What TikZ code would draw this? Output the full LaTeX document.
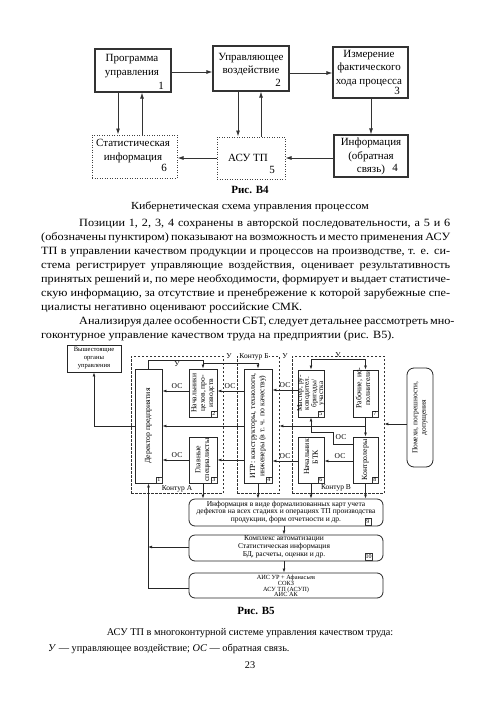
\documentclass[tikz,border=0pt]{standalone}
\usepackage{fontspec}
\setmainfont{Liberation Serif}
\newfontfamily\bodyf[FakeStretch=1.1]{Liberation Serif}
\usetikzlibrary{arrows.meta,fit}
\newcommand\FS[2]{\fontsize{#1}{#2}\selectfont}
\begin{document}
\begin{tikzpicture}[x=1pt,y=-1pt,
  tb/.style={draw=black!80,line width=1.1pt,inner sep=0pt},
  tbdot/.style={draw=black!75,line width=1pt,dash pattern=on 1pt off 1.5pt,inner sep=0pt},
  ttext/.style={align=center,font=\FS{11}{13.2},inner sep=0pt},
  tnum/.style={font=\FS{11}{13},inner sep=0pt},
  tarr/.style={draw=black!80,line width=0.9pt,-{Latex[length=6pt,width=4pt]}},
  cont/.style={draw=black!80,line width=0.6pt,dash pattern=on 2.5pt off 1.5pt,inner sep=0pt},
  bb/.style={draw=black!85,line width=0.8pt,inner sep=0pt},
  rb/.style={bb,rounded corners=6pt},
  vt/.style={rotate=90,align=center,font=\FS{7.8}{8.8},inner sep=0pt},
  st/.style={align=center,font=\FS{7.5}{7.7},inner sep=0pt},
  lbl/.style={font=\FS{7.5}{8},inner sep=0.5pt},
  tag/.style={draw=black!80,line width=0.4pt,font=\FS{6}{6},inner sep=0.5pt,minimum width=6.5pt,minimum height=6.5pt},
  barr/.style={draw=black!85,line width=0.7pt,-{Latex[length=4pt,width=2.8pt]}},
  body/.style={anchor=base west,inner sep=0pt,font=\bodyf\FS{11.1}{14}},
  captxt/.style={inner sep=0pt,font=\FS{10.3}{12}},
]
\useasboundingbox[fill=white] (0,0) rectangle (500,707);

% ---------- Figure B4 ----------
\node[tb,fit={(95,49)(171,92)}] (t1) {};
\node[tb,fit={(213,46)(289,91)}] (t2) {};
\node[tb,fit={(333,47)(408,98)}] (t3) {};
\node[tb,fit={(334,135)(408,177)}] (t4) {};
\node[tbdot,fit={(217,137)(285,179)}] (t5) {};
\node[tbdot,fit={(92,135)(177,178)}] (t6) {};

\node[ttext] (t1x) at (132,66) {Программа\\управления};
\node[ttext] (t2x) at (251,64.5) {Управляющее\\воздействие};
\node[ttext] (t3x) at (369,68.5) {Измерение\\фактического\\хода процесса};
\node[ttext] (t4x) at (371,156.5) {Информация\\(обратная\\связь)};
\node[ttext] (t5x) at (248,158) {АСУ ТП};
\node[ttext] (t6x) at (133,151) {Статистическая\\информация};
\node[tnum] (n1) at (161,86) {1};
\node[tnum] (n2) at (278,83) {2};
\node[tnum] (n3) at (397,91) {3};
\node[tnum] (n4) at (395,168) {4};
\node[tnum] (n5) at (272,170) {5};
\node[tnum] (n6) at (164,168) {6};

\draw[tarr] (t1.east |- 0,72) -- (t2.west |- 0,72);
\draw[tarr] (t2.east |- 0,73) -- (t3.west |- 0,73);
\draw[tarr] (t1.south -| 118,0) -- (t6.north -| 118,0);
\draw[tarr] (t6.north -| 142,0) -- (t1.south -| 142,0);
\draw[tarr] (t2.south -| 238,0) -- (t5.north -| 238,0);
\draw[tarr] (t5.north -| 261,0) -- (t2.south -| 261,0);
\draw[tarr] (t3.south -| 371,0) -- (t4.north -| 371,0);
\draw[tarr] (t4.west |- 0,158) -- (t5.east |- 0,158);
\draw[tarr] (t5.west |- 0,158) -- (t6.east |- 0,158);

\node[inner sep=0pt,font=\bfseries\FS{11}{12}] (cap4) at (250,190) {Рис. В4};
\node[inner sep=0pt,font=\bodyf\FS{10.8}{12}] (cap4b) at (250,207) {Кибернетическая схема управления процессом};

% ---------- Body text ----------
\node[body] (p1) at (79,226) {\makebox[371pt][s]{Позиции 1, 2, 3, 4 сохранены в авторской последовательности, а 5 и 6}};
\node[body] (p2) at (41,240) {\makebox[409pt][s]{(обозначены пунктиром) показывают на возможность и место применения АСУ}};
\node[body] (p3) at (41,254) {\makebox[409pt][s]{ТП в управлении качеством продукции и процессов на производстве, т. е. си-}};
\node[body] (p4) at (41,268) {\makebox[409pt][s]{стема регистрирует управляющие воздействия, оценивает результативность}};
\node[body] (p5) at (41,282) {\makebox[409pt][s]{принятых решений и, по мере необходимости, формирует и выдает статистиче-}};
\node[body] (p6) at (41,296) {\makebox[409pt][s]{скую информацию, за отсутствие и пренебрежение к которой зарубежные спе-}};
\node[body] (p7) at (41,310) {циалисты негативно оценивают российские СМК.};
\node[body] (p8) at (79,324) {\makebox[371pt][s]{Анализируя далее особенности СБТ, следует детальнее рассмотреть мно-}};
\node[body] (p9) at (41,338) {гоконтурное управление качеством труда на предприятии (рис. В5).};

% ---------- Figure B5 ----------
\node[bb,fit={(67,345)(121,372)}] (v) {};
\node[st,font=\FS{6.6}{8}] (vx) at (94,358.5) {Вышестоящие\\органы\\управления};

\node[cont,fit={(131,356)(223,493)}] (ka) {};
\node[cont,fit={(237,356)(279,493)}] (kb) {};
\node[cont,fit={(292,356)(384,493)}] (kv) {};

\node[bb,fit={(135,369)(162,483)}] (b1) {};
\node[bb,fit={(189,369)(217,417)}] (b2) {};
\node[bb,fit={(189,437)(217,483)}] (b3) {};
\node[bb,fit={(244,369)(272,483)}] (b4) {};
\node[bb,fit={(298,370)(324,417)}] (b5) {};
\node[bb,fit={(353,370)(378,417)}] (b7) {};
\node[bb,fit={(298,437)(324,483)}] (b6) {};
\node[bb,fit={(353,437)(378,483)}] (b8) {};
\node[bb,rounded corners=7pt,fit={(407,368)(433,467)}] (pom) {};

\node[vt] (b1x) at (148.5,426) {Деректор предприятия};
\node[vt,font=\FS{7.6}{8.3}] (b2x) at (203,393) {Начальники\\цехов, про-\\изводств};
\node[vt] (b3x) at (203,460) {Главные\\специалисты};
\node[vt,font=\FS{7.8}{9.3}] (b4x) at (258,426) {ИТР: конструкторы, технологи,\\инженеры (в т. ч. по качеству)};
\node[vt,font=\FS{7.3}{6.6}] (b5x) at (311,393.5) {Мастер, ру-\\ководител.\\бригады/\\участка};
\node[vt] (b7x) at (363,388) {Рабочие, ис-\\полнители};
\node[vt] (b6x) at (311,457) {Начальник\\БТК};
\node[vt] (b8x) at (365.5,460) {Контролеры};
\node[vt,font=\FS{7.5}{8.5}] (pomx) at (420,417.5) {Помехи, погрешности,\\допущения};

\node[tag,anchor=south east] (g1) at (b1.south east) {1};
\node[tag,anchor=south east] (g2) at (b2.south east) {2};
\node[tag,anchor=south east] (g3) at (b3.south east) {3};
\node[tag,anchor=south east] (g4) at (b4.south east) {4};
\node[tag,anchor=south east] (g5) at (b5.south east) {5};
\node[tag,anchor=south east] (g7) at (b7.south east) {7};
\node[tag,anchor=south east] (g6) at (b6.south east) {6};
\node[tag,anchor=south east] (g8) at (b8.south east) {8};

\node[lbl] (kal) at (177,489) {Контур А};
\node[lbl,fill=white] (kbl) at (254,357) {Контур Б};
\node[lbl] (kvl) at (336,488) {Контур В};

% control (У) lines
\coordinate (ya) at (203,360);
\coordinate (yd) at (203,363);
\coordinate (yb) at (339,359);
\draw[barr] (b1.north) |- (ya) -- (b2.north);
\draw[barr] (yd) -| (b4.north);
\draw[barr] (yb) -| (b5.north);
\draw[barr] (yb) -| (b7.north);
\node[lbl] (u1) at (177,364) {У};
\node[lbl] (u2) at (229,356.5) {У};
\node[lbl] (u3) at (285,356.5) {У};
\node[lbl] (u4) at (338,355) {У};

% feedback (ОС) lines
\draw[barr] (b1.west |- 0,426) -| (v.south);
\draw[barr] (b2.west |- 0,391) -- (b1.east |- 0,391);
\node[lbl] (o1) at (177,386) {ОС};
\draw[barr] (b4.west |- 0,391) -- (b2.east |- 0,391);
\node[lbl] (o2) at (230,386) {ОС};
\draw[barr] (b4.west |- 0,426) -- (b1.east |- 0,426);
\draw[barr] (b4.west |- 0,460) -- (b3.east |- 0,460);
\draw[barr] (b3.west |- 0,460) -- (b1.east |- 0,460);
\node[lbl] (o3) at (177,455) {ОС};
\draw[barr] (b5.west |- 0,390) -- (b4.east |- 0,390);
\node[lbl] (o4) at (285,385.5) {ОС};
\draw[barr] (b6.west |- 0,461) -- (b4.east |- 0,461);
\node[lbl] (o5) at (285,456) {ОС};
\draw[barr] (b8.west |- 0,461) -- (b6.east |- 0,461);
\node[lbl] (o6) at (340,456) {ОС};
\draw[barr] (b7.south) -- (b8.north);
\draw[barr] (b7.south |- 0,426) -- (kb.east |- 0,426);
\draw[barr] (b8.west |- 0,444) -- (333,444) -- (333,432) -| (b5.south);
\node[lbl] (o7) at (341,437) {ОС};
\draw[barr] (pom.west |- 0,424) -- (kv.east |- 0,424);

% lower blocks
\node[rb,fit={(189,499)(383,526)}] (b9) {};
\node[rb,fit={(189,535)(383,561)}] (b10) {};
\node[rb,fit={(189,573)(383,598)}] (b11) {};
\node[st] (b9x) at (286,512) {Информация в виде формализованных карт учета\\дефектов на всех стадиях и операциях ТП производства\\продукции, форм отчетности и др.};
\node[st] (b10x) at (284,547) {Комплекс автоматизации\\Статистическая информация\\БД, расчеты, оценки и др.};
\node[st,font=\FS{6.3}{5.8}] (b11x) at (286,586) {АИС УР + Афанасьев\\СОКЗ\\АСУ ТП (АСУП)\\АИС АК};
\node[tag,anchor=south east] (g9) at ([xshift=-12pt,yshift=1.5pt]b9.south east) {9};
\node[tag,anchor=south east] (g10) at ([xshift=-11pt,yshift=1.5pt]b10.south east) {10};

\draw[barr] (b3.south) -- (b3.south |- b9.north);
\draw[barr] (b4.south) -- (b4.south |- b9.north);
\draw[barr] (b6.south) -- (b6.south |- b9.north);
\draw[barr] (b8.south) -- (b8.south |- b9.north);
\draw[barr] (b9.south -| 284,0) -- (b10.north -| 284,0);
\draw[barr] (b10.south -| 284,0) -- (b11.north -| 284,0);
\draw[barr] (b10.west |- 0,547) -- (148,547);
\draw[barr] (b11.west |- 0,588) -| (b1.south);

\node[inner sep=0pt,font=\bfseries\FS{11}{12}] (cap5) at (256,611) {Рис. В5};
\node[captxt] (cap5b) at (250,633) {АСУ ТП в многоконтурной системе управления качеством труда:};
\node[captxt,anchor=west] (cap5c) at (48,649) {\textit{У} — управляющее воздействие; \textit{ОС} — обратная связь.};
\node[captxt] (pg) at (250,665) {23};
\end{tikzpicture}
\end{document}
